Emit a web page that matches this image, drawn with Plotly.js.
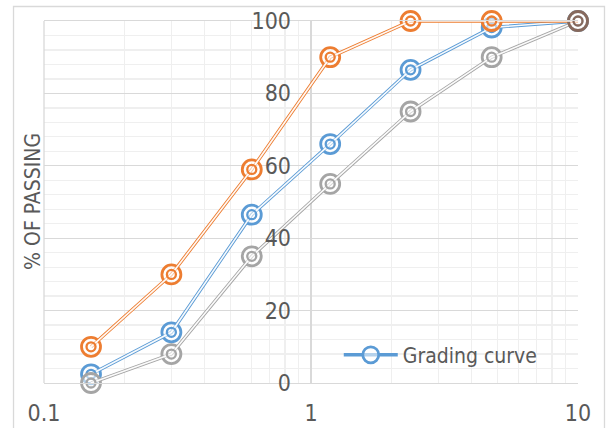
<!DOCTYPE html>
<html>
<head>
<meta charset="utf-8">
<script src="https://cdn.plot.ly/plotly-3.0.1.min.js"></script>
<style>html,body{margin:0;padding:0;background:#fff;}#chart{width:608px;height:428px;}</style>
</head>
<body>
<div id="chart"></div>
<script>
// Sieve sizes (mm)
var sieveSizes = [0.15, 0.3, 0.6, 1.18, 2.36, 4.75, 10];
// % passing
var upperLimit = [10, 30, 59, 90, 100, 100, 100];
var lowerLimit = [0, 8, 35, 55, 75, 90, 100];
var gradingCurve = [2.4, 14, 46.5, 66, 86.5, 98.2, 100];
var legendName = 'Grading curve';
var yTitle = '% OF PASSING';
var xTickVals = [0.1, 1, 10];
var xTickText = ['0.1', '1', '10'];

var FONT = '"DejaVu Sans Condensed", "Liberation Sans Narrow", Roboto, sans-serif';
var TXT = '#595959';

function seriesTraces(y, color, showLegend, name, lastColor) {
  var ringColors = y.map(function (v, i) { return (lastColor && i === y.length - 1) ? lastColor : color; });
  return [
    {
      x: sieveSizes, y: y, type: 'scatter', mode: 'lines+markers', name: name || '',
      showlegend: !!showLegend, cliponaxis: false,
      line: { color: color, width: 3.4 },
      marker: { symbol: 'circle', size: 19, color: 'rgba(255,255,255,0.55)', line: { color: ringColors, width: 2.8 } },
      hoverinfo: 'x+y'
    },
    {
      x: sieveSizes, y: y, type: 'scatter', mode: 'lines', showlegend: false, cliponaxis: false,
      line: { color: 'rgba(255,255,255,0.95)', width: 1.6 }, hoverinfo: 'skip'
    },
    {
      x: sieveSizes, y: y, type: 'scatter', mode: 'markers', showlegend: false, cliponaxis: false,
      marker: { symbol: 'circle-open', size: 9, color: ringColors, line: { width: 2.3 } },
      hoverinfo: 'skip'
    }
  ];
}

var data = []
  .concat(seriesTraces(gradingCurve, '#5B9BD5', true, legendName))
  .concat(seriesTraces(lowerLimit, '#A5A5A5', false))
  .concat(seriesTraces(upperLimit, '#ED7D31', false, '', '#86695d'));

var layout = {
  width: 608, height: 428,
  margin: { l: 44, r: 30, t: 21, b: 45 },
  paper_bgcolor: '#ffffff', plot_bgcolor: '#ffffff',
  font: { family: FONT, size: 24, color: TXT },
  showlegend: true,
  legend: {
    x: 0.552, y: 0.077, xanchor: 'left', yanchor: 'middle', itemwidth: 54,
    bgcolor: 'rgba(0,0,0,0)', font: { family: FONT, size: 21, color: TXT }
  },
  xaxis: {
    type: 'log', range: [-1, 1],
    tickvals: xTickVals, ticktext: xTickText,
    ticks: '', ticklabelstandoff: 9,
    showgrid: true, gridcolor: '#D9D9D9', gridwidth: 1.3,
    minor: { dtick: 'D1', showgrid: true, gridcolor: '#EFEFEF', gridwidth: 1.3, ticks: '' },
    showline: true, linecolor: '#D9D9D9', linewidth: 1.3, mirror: true,
    zeroline: false, tickfont: { family: FONT, size: 23, color: TXT }
  },
  yaxis: {
    range: [0, 100], dtick: 20, tick0: 0,
    anchor: 'free', position: 0.5,
    ticks: '', ticklabelstandoff: 20,
    showgrid: true, gridcolor: '#D9D9D9', gridwidth: 1.3,
    minor: { dtick: 4, showgrid: true, gridcolor: '#EFEFEF', gridwidth: 1.3, ticks: '' },
    showline: false, zeroline: false,
    tickfont: { family: FONT, size: 23, color: TXT }
  },
  shapes: [
    { type: 'rect', xref: 'paper', yref: 'paper', x0: -0.0571, x1: 1.0496, y0: -0.2, y1: 1.040,
      line: { color: '#D9D9D9', width: 1.3 }, fillcolor: 'rgba(0,0,0,0)', layer: 'below' },
    { type: 'line', xref: 'paper', yref: 'paper', x0: 0, x1: 0, y0: 0, y1: 1, line: { color: '#D9D9D9', width: 1.3 } }
  ],
  annotations: [
    { text: yTitle, xref: 'paper', yref: 'paper', x: -0.0206, y: 0.503, textangle: -90,
      showarrow: false, xanchor: 'center', yanchor: 'middle',
      font: { family: FONT, size: 21, color: TXT } }
  ]
};

Plotly.newPlot('chart', data, layout, { displayModeBar: false, staticPlot: true });
</script>
</body>
</html>
